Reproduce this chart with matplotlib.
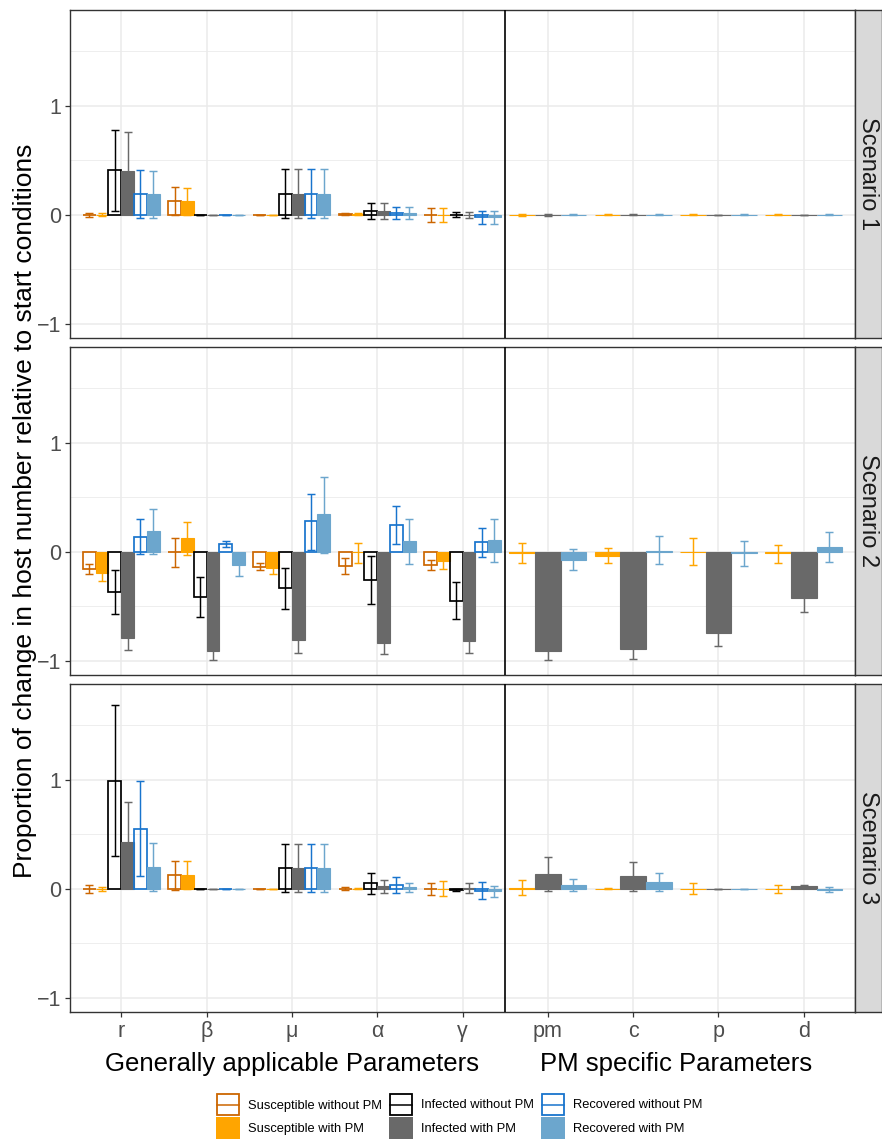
#Cambio proporcional del numero de hospederos por escenario
#Barras agrupadas por parametro, con barras de error

import numpy as np
import matplotlib.pyplot as plt
from matplotlib.patches import Rectangle
from matplotlib.lines import Line2D

plt.rcParams['font.family'] = ['Liberation Sans', 'DejaVu Sans']

# Parametros (eje x)
params_general = ['r', 'β', 'μ', 'α', 'γ']
params_pm = ['pm', 'c', 'p', 'd']

# Series: S/I/R sin y con PM
series = ['Susceptible without PM', 'Susceptible with PM',
          'Infected without PM', 'Infected with PM',
          'Recovered without PM', 'Recovered with PM']
colors = ['#CC6600', '#FFA500', '#000000', '#696969', '#1874CD', '#6CA6CD']
filled = [False, True, False, True, False, True]
scenarios = ['Scenario 1', 'Scenario 2', 'Scenario 3']

# ---- Escenario 1 (filas = series, columnas = r, β, μ, α, γ)
s1_gen_mean = [[0, 0.125, 0, 0.005, 0],
               [0, 0.13, 0, 0.005, 0],
               [0.41, 0, 0.19, 0.037, 0],
               [0.40, 0, 0.19, 0.035, 0],
               [0.19, 0, 0.19, 0.02, -0.02],
               [0.19, 0, 0.19, 0.02, -0.02]]
s1_gen_lo = [[-0.02, -0.005, 0, -0.005, -0.065],
             [-0.015, 0.0, 0, -0.005, -0.065],
             [0.04, 0, -0.03, -0.04, -0.02],
             [0.035, 0, -0.03, -0.04, -0.03],
             [-0.03, 0, -0.03, -0.035, -0.08],
             [-0.03, 0, -0.03, -0.035, -0.08]]
s1_gen_hi = [[0.02, 0.255, 0, 0.015, 0.06],
             [0.015, 0.25, 0, 0.015, 0.065],
             [0.78, 0, 0.42, 0.11, 0.025],
             [0.765, 0, 0.42, 0.105, 0.03],
             [0.41, 0, 0.42, 0.075, 0.035],
             [0.40, 0, 0.42, 0.075, 0.035]]
# (filas = S, I, R con PM; columnas = pm, c, p, d)
s1_pm_mean = [[0, 0, 0, 0],
              [0, 0, 0, 0],
              [0, 0, 0, 0]]
s1_pm_lo = [[-0.008, -0.005, -0.005, -0.005],
            [-0.006, -0.005, -0.003, -0.003],
            [-0.004, -0.004, -0.004, -0.004]]
s1_pm_hi = [[0.008, 0.005, 0.005, 0.005],
            [0.006, 0.005, 0.003, 0.003],
            [0.004, 0.004, 0.004, 0.004]]

# ---- Escenario 2
s2_gen_mean = [[-0.16, 0.0, -0.135, -0.131, -0.122],
               [-0.19, 0.125, -0.144, -0.005, -0.086],
               [-0.367, -0.416, -0.336, -0.257, -0.45],
               [-0.79, -0.908, -0.807, -0.838, -0.82],
               [0.138, 0.073, 0.281, 0.251, 0.086],
               [0.187, -0.125, 0.343, 0.098, 0.107]]
s2_gen_lo = [[-0.2, -0.14, -0.17, -0.205, -0.168],
             [-0.265, -0.03, -0.2, -0.098, -0.153],
             [-0.57, -0.6, -0.523, -0.477, -0.618],
             [-0.896, -0.994, -0.93, -0.933, -0.93],
             [-0.02, 0.046, 0.015, 0.076, -0.049],
             [-0.02, -0.223, -0.015, -0.107, -0.095]]
s2_gen_hi = [[-0.115, 0.125, -0.10, -0.06, -0.076],
             [-0.115, 0.275, -0.09, 0.08, -0.02],
             [-0.165, -0.23, -0.147, -0.034, -0.278],
             [-0.68, -0.82, -0.68, -0.74, -0.71],
             [0.297, 0.10, 0.535, 0.419, 0.22],
             [0.39, -0.03, 0.688, 0.303, 0.303]]
s2_pm_mean = [[-0.006, -0.034, 0.0, -0.01],
              [-0.908, -0.893, -0.746, -0.425],
              [-0.073, 0.006, -0.006, 0.045]]
s2_pm_lo = [[-0.1, -0.104, -0.12, -0.098],
            [-0.994, -0.98, -0.866, -0.55],
            [-0.168, -0.113, -0.128, -0.092]]
s2_pm_hi = [[0.08, 0.04, 0.125, 0.064],
            [-0.82, -0.8, -0.63, -0.3],
            [0.03, 0.144, 0.1, 0.18]]

# ---- Escenario 3
s3_gen_mean = [[0, 0.128, 0, 0.003, 0],
               [0, 0.128, 0, 0.003, 0],
               [0.994, 0, 0.193, 0.055, -0.01],
               [0.428, 0, 0.193, 0.028, 0.01],
               [0.553, 0, 0.193, 0.034, -0.02],
               [0.2, 0, 0.193, 0.018, -0.022]]
s3_gen_lo = [[-0.034, -0.006, 0, -0.007, -0.052],
             [-0.02, 0.0, 0, -0.002, -0.07],
             [0.3, 0, -0.028, -0.043, -0.018],
             [0.06, 0, -0.028, -0.034, -0.034],
             [0.116, 0, -0.028, -0.04, -0.095],
             [-0.02, 0, -0.028, -0.028, -0.076]]
s3_gen_hi = [[0.04, 0.254, 0, 0.013, 0.052],
             [0.02, 0.254, 0, 0.008, 0.07],
             [1.688, 0, 0.41, 0.15, -0.002],
             [0.80, 0, 0.41, 0.083, 0.05],
             [0.988, 0, 0.41, 0.11, 0.06],
             [0.42, 0, 0.41, 0.058, 0.03]]
s3_pm_mean = [[0.012, 0.003, 0, 0],
              [0.138, 0.119, 0, 0.024],
              [0.04, 0.067, 0, -0.006]]
s3_pm_lo = [[-0.052, -0.002, -0.043, -0.034],
            [-0.018, -0.018, 0, 0.014],
            [-0.021, -0.018, 0, -0.028]]
s3_pm_hi = [[0.085, 0.008, 0.05, 0.034],
            [0.29, 0.25, 0, 0.034],
            [0.089, 0.15, 0, 0.021]]

gen_data = [(s1_gen_mean, s1_gen_lo, s1_gen_hi),
            (s2_gen_mean, s2_gen_lo, s2_gen_hi),
            (s3_gen_mean, s3_gen_lo, s3_gen_hi)]
pm_data = [(s1_pm_mean, s1_pm_lo, s1_pm_hi),
           (s2_pm_mean, s2_pm_lo, s2_pm_hi),
           (s3_pm_mean, s3_pm_lo, s3_pm_hi)]

W, H = 882, 1139
fig = plt.figure(figsize=(W / 100, H / 100), dpi=100)

border = '#333333'
grid = '#EBEBEB'
rows_px = [(10, 338), (347, 675), (684, 1012)]
x_gen = np.arange(1, len(params_general) + 1)
x_pm = np.arange(len(params_general) + 1, len(params_general) + len(params_pm) + 1)


def draw_bars(ax, x, mean, lo, hi, color, fill, width):
    mean = np.array(mean, dtype=float)
    err = [np.maximum(mean - np.array(lo), 0), np.maximum(np.array(hi) - mean, 0)]
    if fill:
        ax.bar(x, mean, width=width, color=color, edgecolor=color, lw=0.8, zorder=3)
    else:
        ax.bar(x, mean, width=width, facecolor='none', edgecolor=color, lw=1.25, zorder=3)
    ax.errorbar(x, mean, yerr=err, fmt='none', ecolor=color, elinewidth=1.05,
                capsize=3, capthick=1.05, zorder=4)


axes = []
for i, (top, bot) in enumerate(rows_px):
    ax = fig.add_axes([70 / W, 1 - bot / H, (855 - 70) / W, (bot - top) / H])
    axes.append(ax)
    mean, lo, hi = gen_data[i]
    for k in range(6):
        xk = x_gen + (k - 2.5) * 0.15
        draw_bars(ax, xk, mean[k], lo[k], hi[k], colors[k], filled[k], 0.15)
    mean, lo, hi = pm_data[i]
    for j, k in enumerate([1, 3, 5]):
        xk = x_pm + (j - 1) * 0.3
        draw_bars(ax, xk, mean[j], lo[j], hi[j], colors[k], True, 0.3)

    ax.axvline(5.5, color='black', lw=1.2, zorder=5)
    ax.set_xlim(0.4, 9.6)
    ax.set_ylim(-1.13, 1.88)
    ax.set_yticks([-1, 0, 1])
    ax.set_yticks([-0.5, 0.5, 1.5], minor=True)
    ax.set_xticks(np.concatenate([x_gen, x_pm]))
    ax.grid(True, which='major', color=grid, lw=1.1, zorder=0)
    ax.grid(True, which='minor', axis='y', color=grid, lw=0.6, zorder=0)
    ax.set_axisbelow(True)
    ax.tick_params(axis='both', which='major', length=3.5, width=0.9, color=border,
                   labelsize=15.5, labelcolor='#4D4D4D', pad=3)
    ax.tick_params(axis='y', which='minor', length=0)
    for s in ax.spines.values():
        s.set_color(border)
        s.set_linewidth(1.0)
    if i < 2:
        ax.tick_params(axis='x', length=0, labelbottom=False)
    else:
        ax.set_xticklabels(params_general + params_pm)

    # tira con el nombre del escenario
    sax = fig.add_axes([855 / W, 1 - bot / H, 27 / W, (bot - top) / H])
    sax.set_facecolor('#D9D9D9')
    sax.set_xticks([])
    sax.set_yticks([])
    for s in sax.spines.values():
        s.set_color(border)
        s.set_linewidth(1.0)
    sax.text(0.5, 0.5, scenarios[i], rotation=-90, ha='center', va='center',
             fontsize=17, color='#1A1A1A', transform=sax.transAxes)

# titulos de los ejes
fig.text(25 / W, 1 - 511 / H, 'Proportion of change in host number relative to start conditions',
         rotation=90, ha='center', va='center', fontsize=19)
tr = axes[2].get_xaxis_transform()
axes[2].text(3, -0.16, 'Generally applicable Parameters', ha='center', va='center',
             fontsize=18.5, transform=tr)
axes[2].text(7.5, -0.16, 'PM specific Parameters', ha='center', va='center',
             fontsize=18.5, transform=tr)

# leyenda
lax = fig.add_axes([0, 0, 1, 1])
lax.set_xlim(0, W)
lax.set_ylim(H, 0)
lax.axis('off')
key_x = [216, 389, 541]
text_x = [248, 421, 573]
row_y = [(1093, 1116), (1117, 1139)]
for c in range(3):
    for r in range(2):
        k = 2 * c + r
        y0, y1 = row_y[r]
        if filled[k]:
            lax.add_patch(Rectangle((key_x[c], y0), 24, y1 - y0, facecolor=colors[k],
                                    edgecolor='none'))
        else:
            lax.add_patch(Rectangle((key_x[c] + 1, y0 + 1), 22, y1 - y0 - 2, facecolor='white',
                                    edgecolor=colors[k], lw=1.3))
            lax.add_line(Line2D([key_x[c] + 1, key_x[c] + 23], [(y0 + y1) / 2] * 2,
                                color=colors[k], lw=1.1))
        lax.text(text_x[c], (y0 + y1) / 2 + 1, series[k], ha='left', va='center',
                 fontsize=9.3, color='black')

plt.savefig('out.png', dpi=100)
